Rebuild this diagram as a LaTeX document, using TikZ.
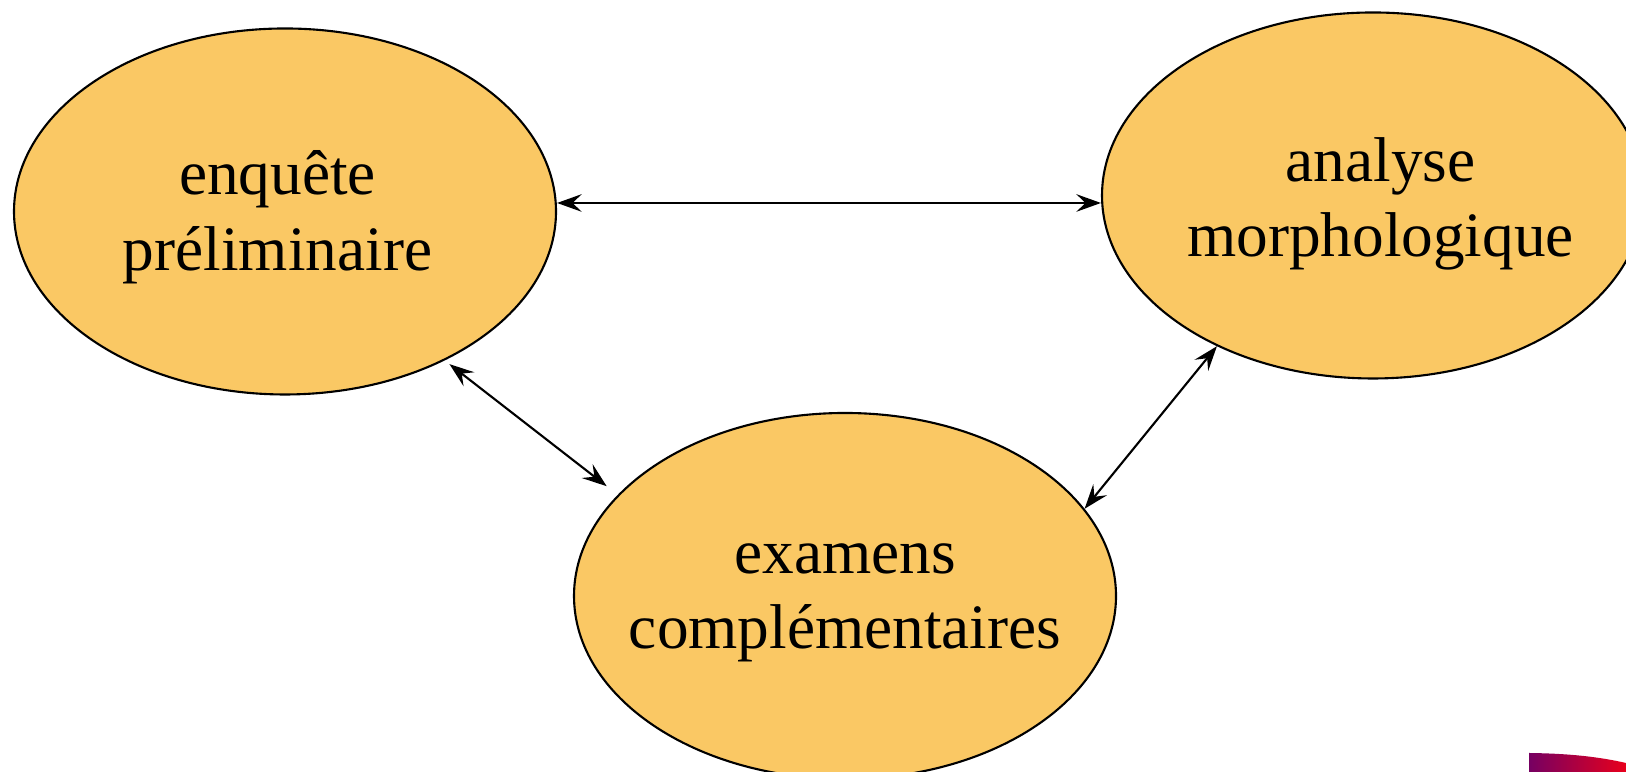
\documentclass[tikz,border=0pt]{standalone}
\usepackage{fontspec}
\setmainfont{Liberation Serif}
\usetikzlibrary{arrows.meta,shapes.geometric}

\definecolor{phasefill}{RGB}{250,200,100}
\definecolor{logopurple}{RGB}{118,0,98}
\definecolor{logored}{RGB}{232,0,28}

% two centred lines of zero width, moved by (#1/2,#2)
\newcommand{\phaselabel}[4]{%
    \raisebox{#2}[\height][\depth]{\makebox[0pt]{\hspace*{#1}%
    \begin{tabular}{@{}c@{}}#3\\#4\end{tabular}}}}

\begin{document}
\begin{tikzpicture}[
    >={Stealth[length=7pt,width=5pt,inset=2.6pt]},
    line cap=round,
    line join=round,
    phase/.style={
        ellipse,
        draw=black,
        line width=0.6pt,
        fill=phasefill,
        minimum width=5.42cm,
        minimum height=3.66cm,
        inner sep=0pt,
        font=\fontsize{18}{21.5}\selectfont
    },
    link/.style={<->,line width=0.6pt}
]

% Frame of the slide
\useasboundingbox (0,0) rectangle (16.26,7.72);
\clip (0,0) rectangle (16.26,7.72);

% The three phases
\node[phase] (enquete) at (2.85,5.605)
    {\phaselabel{-0.15cm}{-0.06cm}{enquête}{préliminaire}};
\node[phase] (analyse) at (13.73,5.765)
    {\phaselabel{0.15cm}{-0.085cm}{analyse}{morphologique}};
\node[phase] (examens) at (8.45,1.76)
    {\phaselabel{0cm}{0cm}{examens}{complémentaires}};

% Height of the upper link
\coordinate (toplink) at (8,5.69);

% Links between the phases
\draw[link] (enquete.east |- toplink) -- (analyse.west |- toplink);
\draw[link,shorten <=1.7pt,shorten >=4pt]
    (enquete.-43.3) -- (examens.156.2);
\draw[link] (analyse.-136.4) -- (examens.20.8);

% Corner of the logo
\shade[left color=logopurple,right color=logored]
    (15.29,0) -- (15.29,0.19)
    .. controls (15.7,0.185) and (16.0,0.15) .. (16.26,0.09)
    -- (16.26,0) -- cycle;

\end{tikzpicture}
\end{document}
